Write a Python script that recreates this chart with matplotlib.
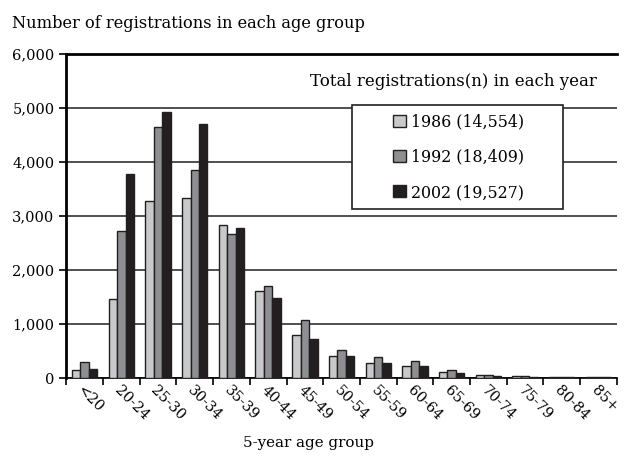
import numpy as np
import matplotlib
matplotlib.use("Agg")
from matplotlib import pyplot as plt
from matplotlib.patches import Rectangle

plt.rcParams['font.family'] = ['DejaVu Serif']

age_groups = ["<20", "20-24", "25-30", "30-34", "35-39", "40-44", "45-49",
              "50-54", "55-59", "60-64", "65-69", "70-74", "75-79", "80-84", "85+"]
years = ["1986 (14,554)", "1992 (18,409)", "2002 (19,527)"]
reg_1986 = [155, 1470, 3275, 3335, 2835, 1605, 805, 410, 275, 215, 105, 50, 30, 15, 15]
reg_1992 = [295, 2730, 4645, 3860, 2675, 1710, 1065, 525, 385, 310, 145, 65, 30, 15, 18]
reg_2002 = [165, 3780, 4925, 4700, 2775, 1490, 715, 400, 275, 215, 95, 35, 20, 10, 12]
colors = ["#c8c9ca", "#8e8f92", "#231f20"]

fig = plt.figure(figsize=(6.25, 4.61), dpi=100)
ax = fig.add_axes([0.106, 0.18, 0.881, 0.703])

x = np.arange(len(age_groups))
w = 0.23
for i, (vals, lab) in enumerate(zip([reg_1986, reg_1992, reg_2002], years)):
    ax.bar(x + (i - 1) * w, vals, width=w, color=colors[i], edgecolor="#231f20",
           linewidth=1.0, label=lab, zorder=3)

ax.set_xlim(-0.5, len(age_groups) - 0.5)
ax.set_ylim(0, 6000)
ax.set_yticks(np.arange(0, 6001, 1000))
ax.set_yticklabels([f"{v:,}" for v in range(0, 6001, 1000)], fontsize=10.5)
ax.yaxis.grid(True, color="#231f20", linewidth=1.1, zorder=0)
ax.set_axisbelow(True)

ax.set_xticks(np.arange(-0.5, len(age_groups), 1.0))
ax.set_xticklabels([])
ax.set_xticks(x, minor=True)
ax.set_xticklabels(age_groups, minor=True, rotation=-45, ha="left", va="top",
                   rotation_mode="anchor", fontsize=10.5)
ax.tick_params(axis="x", which="minor", length=0, pad=4)
ax.tick_params(axis="x", which="major", length=5, width=1.2, direction="out")
ax.tick_params(axis="y", length=5, width=1.2, direction="out")

ax.spines["right"].set_visible(False)
ax.spines["top"].set_linewidth(2)
ax.spines["left"].set_linewidth(2)
ax.spines["bottom"].set_linewidth(1.2)

# legend box drawn by hand so it can be wider than its entries
fig.patches.append(Rectangle((0.5632, 0.5466), 0.3376, 0.2256, transform=fig.transFigure,
                             facecolor="white", edgecolor="#231f20", linewidth=1.2,
                             zorder=5))
leg = fig.legend(loc="center", bbox_to_anchor=(0.734, 0.659), fontsize=11.4,
                 frameon=False, handlelength=0.8, handleheight=0.8, handletextpad=0.3,
                 labelspacing=1.15, borderpad=0.2)
leg.set_zorder(6)

ax.text(0.964, 0.914, "Total registrations(n) in each year", transform=ax.transAxes,
        ha="right", va="center", fontsize=12)

fig.text(0.019, 0.95, "Number of registrations in each age group", ha="left",
         va="center", fontsize=11.7)
fig.text(0.494, 0.039, "5-year age group", ha="center", va="center", fontsize=10.9)

fig.savefig("out.png", dpi=100)
